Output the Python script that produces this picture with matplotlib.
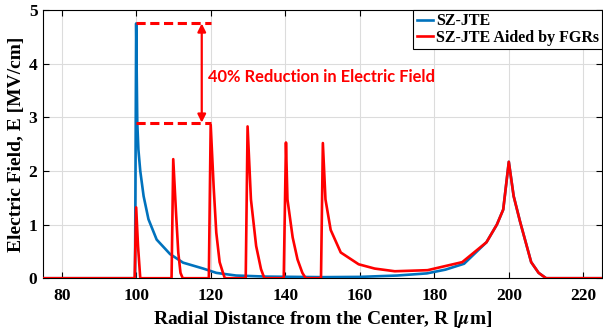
import matplotlib
matplotlib.use('Agg')
import matplotlib.pyplot as plt

# ── Data ─────────────────────────────────────────────────────────────────────
blue_r = [75, 99.7, 100, 100.3, 100.6, 101.1, 102, 103.3, 105.5, 109.1, 112.6,
          118, 121.5, 126.8, 135, 150, 160, 170, 178, 183, 188, 194, 196.8,
          198.5, 200, 201.3, 203, 206, 208, 210, 211, 225]
blue_e = [0, 0, 4.75, 2.9, 2.4, 2.0, 1.53, 1.1, 0.72, 0.45, 0.29,
          0.18, 0.10, 0.05, 0.03, 0.02, 0.025, 0.05, 0.09, 0.16, 0.27, 0.67, 1.0,
          1.28, 2.17, 1.53, 1.06, 0.3, 0.1, 0.0, 0.0, 0.0]

red_r = [75, 99.6, 100, 100.5, 101.1, 109.5, 109.95, 110.7, 111.3, 111.9, 112.5,
         119.5, 120, 120.8, 121.5, 122.4, 123.3, 123.8,
         129.4, 129.9, 130.8, 132.2, 133.5, 134.4,
         139.6, 140.2, 140.6, 142, 143.3, 144.6, 145.5,
         149.6, 150.1, 150.8, 152.2, 154.9, 159.7, 164, 169.4, 178.2, 187.5,
         194, 196.8, 198.5, 200, 201.3, 203, 206, 208, 210, 211, 225]
red_e = [0, 0, 1.32, 0.6, 0, 0, 2.22, 1.22, 0.48, 0.1, 0,
         0, 2.86, 1.7, 0.85, 0.3, 0.1, 0,
         0, 2.83, 1.47, 0.6, 0.17, 0,
         0, 2.53, 1.47, 0.76, 0.35, 0.1, 0,
         0, 2.52, 1.47, 0.9, 0.48, 0.26, 0.18, 0.13, 0.15, 0.3,
         0.67, 1.0, 1.28, 2.17, 1.53, 1.06, 0.3, 0.1, 0.0, 0.0, 0.0]

peak_blue = 4.75
peak_red = 2.9
note = '40% Reduction in Electric Field'

xticks = [80, 100, 120, 140, 160, 180, 200, 220]
yticks = [0, 1, 2, 3, 4, 5]

BLUE = '#0072BD'
RED = '#FF0000'
SERIF = ['Liberation Serif', 'DejaVu Serif']

plt.rcParams['font.family'] = SERIF
plt.rcParams['font.weight'] = 'bold'
plt.rcParams['mathtext.fontset'] = 'stix'

# ── Figure ───────────────────────────────────────────────────────────────────
fig = plt.figure(figsize=(6.03, 3.34), dpi=100, facecolor='white')
ax = fig.add_axes([0.0713, 0.167, 0.927, 0.803])

ax.plot(blue_r, blue_e, color=BLUE, lw=1.9, label='SZ-JTE', zorder=3)
ax.plot(red_r, red_e, color=RED, lw=1.9, label='SZ-JTE Aided by FGRs', zorder=4)

ax.set_xlim(75, 225)
ax.set_ylim(0, 5)
ax.set_xticks(xticks)
ax.set_yticks(yticks)
ax.grid(True, color='#dcdcdc', lw=0.8)
ax.set_axisbelow(True)
ax.tick_params(direction='in', top=True, right=True, length=4, width=0.8,
               labelsize=12.5)
ax.tick_params(axis='x', pad=7)
ax.tick_params(axis='y', pad=4)
for lab in ax.get_xticklabels() + ax.get_yticklabels():
    lab.set_fontweight('bold')
for sp in ax.spines.values():
    sp.set_linewidth(0.8)

ax.set_xlabel(r'Radial Distance from the Center, R [$\mu$m]', fontsize=14,
              fontweight='bold', labelpad=4)
ax.set_ylabel('Electric Field, E [MV/cm]', fontsize=14, fontweight='bold',
              labelpad=3)

# ── Annotation: reduction ────────────────────────────────────────────────────
ax.plot([100, 120], [peak_blue, peak_blue], color=RED, lw=2.2, ls=(0, (3, 1.5)),
        zorder=5)
ax.plot([100, 120], [peak_red, peak_red], color=RED, lw=2.2, ls=(0, (3, 1.5)),
        zorder=5)
ax.annotate('', xy=(117.6, peak_red), xytext=(117.6, peak_blue),
            arrowprops=dict(arrowstyle='<|-|>', color=RED, lw=1.6,
                            mutation_scale=12, shrinkA=0, shrinkB=0), zorder=5)
ax.text(119.3, 3.76, note, color=RED, fontsize=11.9, fontweight='bold',
        family=['Lato', 'DejaVu Sans'], ha='left', va='center')

# ── Legend ───────────────────────────────────────────────────────────────────
leg = ax.legend(loc='upper right', fontsize=11.5, handlelength=1.0,
                handletextpad=0.2, borderpad=0.2, labelspacing=0.05,
                fancybox=False, framealpha=1, edgecolor='black',
                borderaxespad=0)
leg.get_frame().set_linewidth(0.8)
for t in leg.get_texts():
    t.set_fontweight('bold')

plt.savefig('out.png', dpi=100, facecolor='white')
